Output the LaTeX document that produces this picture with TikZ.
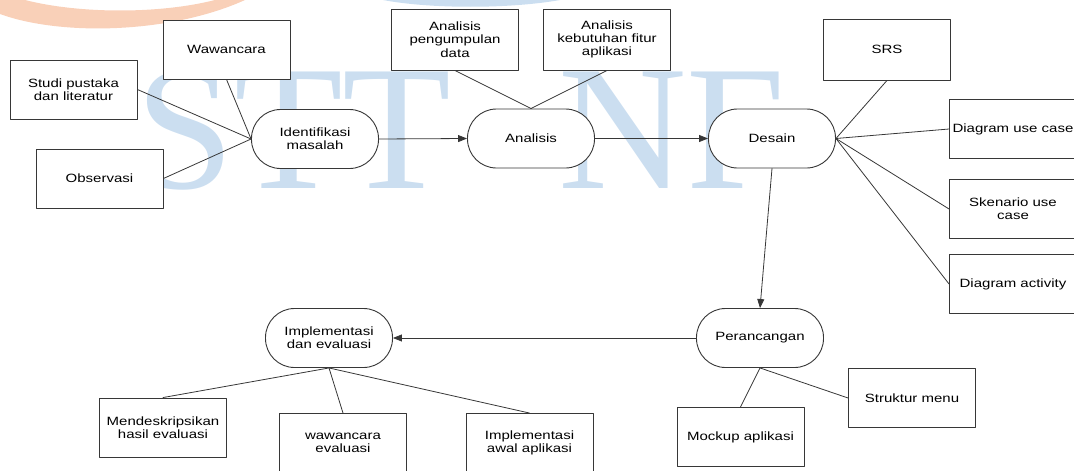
\documentclass[tikz,border=0pt]{standalone}
\usepackage{fontspec}
\setmainfont[FakeStretch=1.25]{Liberation Sans}
\newfontfamily\wmfont{Liberation Serif}
\usetikzlibrary{arrows.meta}
\definecolor{wmblue}{RGB}{203,222,240}
\definecolor{wmorange}{RGB}{249,208,184}
\definecolor{linegray}{RGB}{55,55,55}
\tikzset{
  kotak/.style={draw=linegray,fill=white,line width=0.9pt,minimum width=127pt,minimum height=59pt,align=center,inner sep=1pt,font=\fontsize{12}{13.3}\selectfont},
  proses/.style={kotak,rounded corners=29pt},
  garis/.style={draw=linegray,line width=0.8pt},
  panah/.style={garis,->}
}

\begin{document}
\begin{tikzpicture}[line cap=round,line join=round,>={Triangle[length=9pt,width=7pt]},x=1pt,y=-1pt]
\useasboundingbox (0,0) rectangle (1074,471);
% watermark
\fill[wmorange] (0,14) .. controls (60,36) and (170,34) .. (245,0) -- (215,0) .. controls (160,14) and (80,14) .. (25,0) -- (0,0) -- cycle;
\fill[wmblue] (383,0) .. controls (430,9) and (510,9) .. (560,0) -- cycle;
\node[wmblue,anchor=base west,inner sep=0pt,font=\wmfont\fontsize{178}{178}\selectfont] (wmstt) at (135,188) {STT};
\node[wmblue,anchor=base west,inner sep=0pt,font=\wmfont\fontsize{178}{178}\selectfont] (wmnf) at (558,188) {NF};
% proses
\node[proses] (identifikasi) at (315,139) {Identifikasi\\masalah};
\node[proses] (analisis) at (531,138.5) {Analisis};
\node[proses] (desain) at (772,138.5) {Desain};
\node[proses] (perancangan) at (760,338) {Perancangan};
\node[proses] (implementasi) at (329,338) {Implementasi\\dan evaluasi};
% kotak
\node[kotak] (wawancara) at (226.5,49.5) {Wawancara};
\node[kotak] (studi) at (73.5,89.5) {Studi pustaka\\dan literatur};
\node[kotak] (observasi) at (99.5,178.5) {Observasi};
\node[kotak,minimum height=61pt] (pengumpulan) at (455,39.5) {Analisis\\pengumpulan\\data};
\node[kotak,minimum height=61pt] (kebutuhan) at (607,39.5) {Analisis\\kebutuhan fitur\\aplikasi};
\node[kotak,minimum height=61pt] (srs) at (887,49.5) {SRS};
\node[kotak] (usecase) at (1013,129) {Diagram use case};
\node[kotak] (skenario) at (1013,209) {Skenario use\\case};
\node[kotak] (activity) at (1013,284) {Diagram activity};
\node[kotak] (struktur) at (912,398) {Struktur menu};
\node[kotak] (mockup) at (740.5,437) {Mockup aplikasi};
\node[kotak] (deskripsi) at (163,427.5) {Mendeskripsikan\\hasil evaluasi};
\node[kotak] (wawancaraev) at (343,443) {wawancara\\evaluasi};
\node[kotak] (implawal) at (529.5,443) {Implementasi\\awal aplikasi};
% alur
\draw[panah] (identifikasi.east) -- (analisis.west);
\draw[panah] (analisis.east) -- (desain.west);
\draw[panah] (desain.south) -- (perancangan.north);
\draw[panah] (perancangan.west) -- (implementasi.east);
% hubungan
\draw[garis] (identifikasi.west) -- (wawancara.south);
\draw[garis] (identifikasi.west) -- (studi.east);
\draw[garis] (identifikasi.west) -- (observasi.east);
\draw[garis] (analisis.north) -- (pengumpulan.south);
\draw[garis] (analisis.north) -- (kebutuhan.south);
\draw[garis] (desain.east) -- (srs.south);
\draw[garis] (desain.east) -- (usecase.west);
\draw[garis] (desain.east) -- (skenario.west);
\draw[garis] (desain.east) -- (activity.west);
\draw[garis] (perancangan.south) -- (mockup.north);
\draw[garis] (perancangan.south) -- (struktur.west);
\draw[garis] (implementasi.south) -- (deskripsi.north);
\draw[garis] (implementasi.south) -- (wawancaraev.north);
\draw[garis] (implementasi.south) -- (implawal.north);
\end{tikzpicture}
\end{document}
